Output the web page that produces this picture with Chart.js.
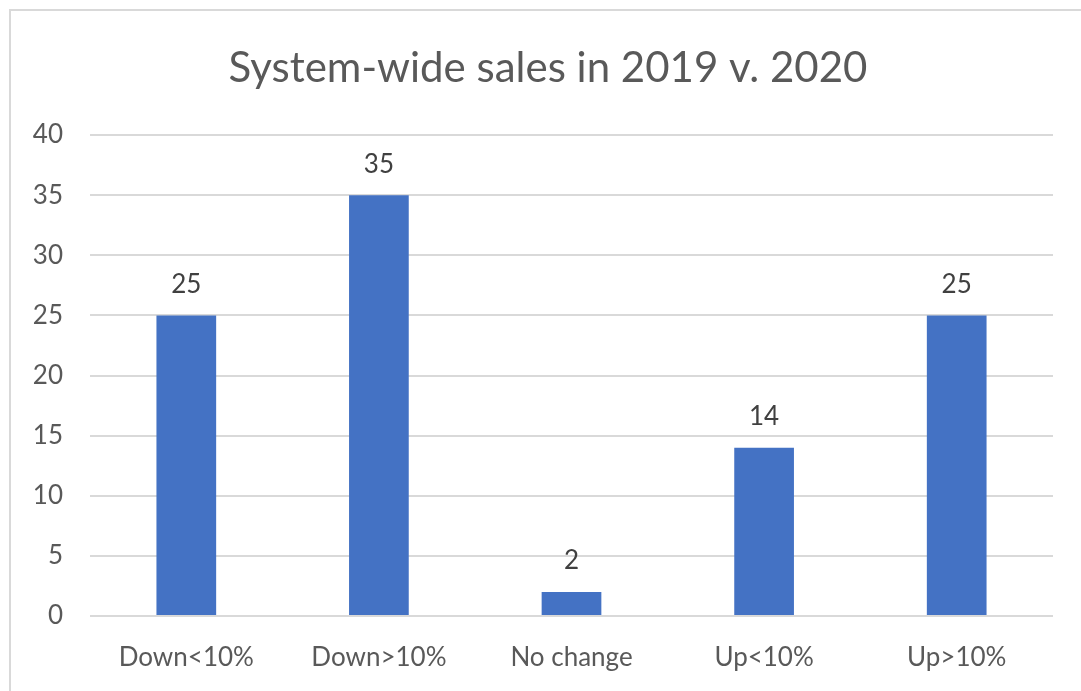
<!DOCTYPE html>
<html>
<head>
<meta charset="utf-8">
<script src="https://cdn.jsdelivr.net/npm/chart.js@4"></script>
<style>
  html, body { margin: 0; padding: 0; background: #fff; }
  #wrap { position: relative; width: 1081px; height: 691px; }
  #frame { position: absolute; left: 9px; top: 9px; right: -5px; bottom: -5px;
           border-left: 2px solid #d9d9d9; border-top: 2px solid #d9d9d9; pointer-events: none; }
</style>
</head>
<body>
<div id="wrap">
  <canvas id="salesChart" width="1081" height="691"></canvas>
  <div id="frame"></div>
</div>
<script>
const categories = ['Down<10%', 'Down>10%', 'No change', 'Up<10%', 'Up>10%'];
const salesCounts = [25, 35, 2, 14, 25];
const yTicks = [0, 5, 10, 15, 20, 25, 30, 35, 40];
const chartTitle = 'System-wide sales in 2019 v. 2020';

const textColor = '#595959';
const fontFamily = 'Lato, "Open Sans", sans-serif';

// title centred over the whole frame, not just the plot
const frameTitle = {
    id: 'frameTitle',
    afterDraw(chart) {
        const ctx = chart.ctx;
        ctx.save();
        ctx.fillStyle = textColor;
        ctx.font = '42px ' + fontFamily;
        ctx.textAlign = 'center';
        ctx.textBaseline = 'middle';
        ctx.fillText(chartTitle, 548, 68);
        ctx.restore();
    }
};

// draws the value above each bar, like excel data labels
const barLabels = {
    id: 'barLabels',
    afterDatasetsDraw(chart) {
        const ctx = chart.ctx;
        const meta = chart.getDatasetMeta(0);
        ctx.save();
        ctx.fillStyle = '#404040';
        ctx.font = '26px ' + fontFamily;
        ctx.textAlign = 'center';
        ctx.textBaseline = 'middle';
        meta.data.forEach((bar, i) => {
            ctx.fillText(String(salesCounts[i]), bar.x, bar.y - 31);
        });
        ctx.restore();
    }
};

let ctx = document.getElementById('salesChart');
const salesChart = new Chart(ctx, {
    type: 'bar',
    data: {
        labels: categories,
        datasets: [{
            data: salesCounts,
            backgroundColor: '#4472C4',
            borderWidth: 0,
            barPercentage: 1,
            categoryPercentage: 0.31
        }]
    },
    options: {
        responsive: false,
        animation: false,
        layout: {
            padding: { left: 0, right: 28, top: 135, bottom: 0 }
        },
        plugins: {
            legend: { display: false },
            tooltip: { enabled: false },
            title: { display: false }
        },
        scales: {
            y: {
                min: 0,
                max: 40,
                afterBuildTicks: (axis) => {
                    axis.ticks = yTicks.map(v => ({ value: v }));
                },
                afterFit: (axis) => { axis.width = 90; },
                border: { display: false },
                grid: { color: '#d9d9d9', lineWidth: 2, drawTicks: false },
                ticks: {
                    color: textColor,
                    font: { family: fontFamily, size: 26 },
                    padding: 27
                }
            },
            x: {
                afterFit: (axis) => { axis.height = 75; },
                border: { display: false },
                grid: { display: false },
                ticks: {
                    color: textColor,
                    font: { family: fontFamily, size: 26 },
                    padding: 18,
                    maxRotation: 0
                }
            }
        }
    },
    plugins: [barLabels, frameTitle]
});
</script>
</body>
</html>
